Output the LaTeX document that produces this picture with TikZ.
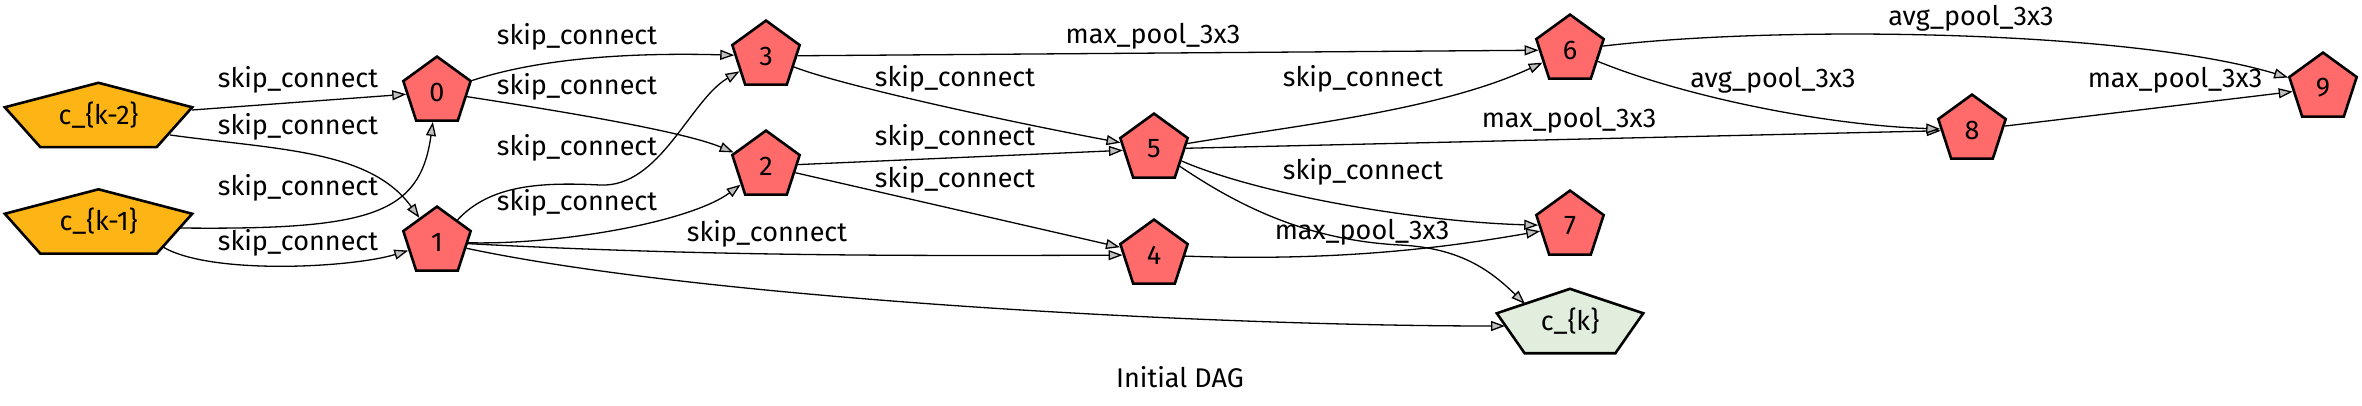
\documentclass[tikz,border=0pt]{standalone}
\usepackage{fontspec}
\setmainfont{Fira Sans}
\usepackage{tikz}
\usetikzlibrary{
	arrows.meta,
	backgrounds,
	calc,
	shapes.geometric
}
\definecolor{inorange}{HTML}{FDB515}
\definecolor{opred}{HTML}{FF6A6A}
\definecolor{outgreen}{HTML}{E1EEDD}
\definecolor{tipgray}{HTML}{C0C0C0}
\tikzset{
	opnode/.style={regular polygon, regular polygon sides=5, minimum size=70.8pt,
		inner sep=0pt, draw, line width=2.6pt, fill=opred},
	cellnode/.style={rectangle, minimum height=64pt, inner sep=0pt},
	edge/.style={line width=1.3pt, -{Triangle[length=14pt, width=10pt, fill=tipgray]}},
	oplabel/.style={inner sep=0pt}
}
% wide pentagon behind a cell node: name, fill
\newcommand{\CellPent}[2]{
	\filldraw[fill=#2, line width=2.6pt, line join=miter]
		(#1.north)
		-- ($(#1.north east)!0.38!(#1.south east)$)
		-- ($(#1.south west)!0.81!(#1.south east)$)
		-- ($(#1.south west)!0.19!(#1.south east)$)
		-- ($(#1.north west)!0.38!(#1.south west)$)
		-- cycle;
}

\begin{document}
\begin{tikzpicture}
	[x=1pt, y=-1pt, every node/.style={font=\fontsize{27}{32}\selectfont}]

	\useasboundingbox (0,0) rectangle (2362,406);

	% cell nodes
	\begin{scope}
		\node[cellnode, minimum width=187pt] (km2) at (98.5,115) {c\_\{k-2\}};
		\node[cellnode, minimum width=187pt] (km1) at (98.5,221.5) {c\_\{k-1\}};
		\node[cellnode, minimum width=146pt] (ck) at (1570,321) {c\_\{k\}};

		\begin{scope}[on background layer]
			\CellPent{km2}{inorange}
			\CellPent{km1}{inorange}
			\CellPent{ck}{outgreen}
		\end{scope}
	\end{scope}

	% intermediate nodes
	\begin{scope}
		\foreach \name/\x/\y in {0/437/92, 1/437/242, 3/766/56, 2/766/166,
				5/1154/149, 4/1154/255, 6/1570/50, 7/1570/226, 8/1972/130, 9/2323/88} {
			\node[opnode] (n\name) at (\x,\y) {\name};
		}
	\end{scope}

	% edges
	\begin{scope}[edge]
		% from the inputs
		\draw ([yshift=5pt]km2.east) -- (n0);
		\draw ($(km2.center)+(71.5,20)$) .. controls (280,150) and (370,150) .. (n1);
		\draw ($(km1.center)+(81.5,6.5)$) .. controls (370,230) and (420,215) .. (n0);
		\draw ($(km1.center)+(64.5,25.5)$) .. controls (210,275) and (350,268) .. (n1);

		% from 0 and 1
		\draw (n0) .. controls (550,55) and (650,53) .. (n3);
		\draw (n0) .. controls (540,108) and (680,130) .. (n2);
		\draw (n1) .. controls (490,185) and (540,182) .. (600,185)
			.. controls (660,188) and (690,100) .. (n3);
		\draw (n1) .. controls (560,245) and (690,222) .. (n2);
		\draw (n1) .. controls (700,256) and (900,256) .. (n4);
		\draw (n1) .. controls (700,298) and (1200,326) .. ($(ck.center)+(-65,5)$);

		% from 2 and 3
		\draw (n3) .. controls (840,85) and (1000,120) .. (n5);
		\draw (n2) -- (n5);
		\draw (n2) -- (n4);
		\draw (n3) -- (n6);

		% from 4 and 5
		\draw (n5) .. controls (1300,125) and (1440,110) .. (n6);
		\draw (n5) -- (n8);
		\draw (n5) .. controls (1260,195) and (1420,222) .. (n7);
		\draw (n5) .. controls (1230,200) and (1300,240) .. (1400,245)
			.. controls (1460,248) and (1490,270) .. ($(ck.center)+(-45,-17)$);
		\draw (n4) .. controls (1350,262) and (1460,245) .. (n7);

		% from 6 and 8
		\draw (n6) .. controls (1680,95) and (1820,125) .. (n8);
		\draw (n6) .. controls (1780,25) and (2130,30) .. (n9);
		\draw (n8) -- (n9);
	\end{scope}

	% edge labels
	\begin{scope}[every node/.append style={oplabel}]
		\node (l-km2-0) at (298,80) {skip\_connect};
		\node (l-km2-1) at (298,127) {skip\_connect};
		\node (l-km1-0) at (298,188) {skip\_connect};
		\node (l-km1-1) at (298,243) {skip\_connect};
		\node (l-0-3) at (577,37) {skip\_connect};
		\node (l-0-2) at (577,87) {skip\_connect};
		\node (l-1-3) at (577,148) {skip\_connect};
		\node (l-1-2) at (577,203) {skip\_connect};
		\node (l-1-4) at (767,234) {skip\_connect};
		\node (l-3-6) at (1153,36) {max\_pool\_3x3};
		\node (l-3-5) at (955,79) {skip\_connect};
		\node (l-2-5) at (955,138) {skip\_connect};
		\node (l-2-4) at (955,180) {skip\_connect};
		\node (l-5-6) at (1363,79) {skip\_connect};
		\node (l-5-7) at (1363,172) {skip\_connect};
		\node (l-4-7) at (1362,232) {max\_pool\_3x3};
		\node (l-5-8) at (1569,120) {max\_pool\_3x3};
		\node (l-6-8) at (1773,80) {avg\_pool\_3x3};
		\node (l-6-9) at (1971,18) {avg\_pool\_3x3};
		\node (l-8-9) at (2175,80) {max\_pool\_3x3};
	\end{scope}

	% caption
	\node (title) at (1180,377) {Initial DAG};

\end{tikzpicture}
\end{document}
